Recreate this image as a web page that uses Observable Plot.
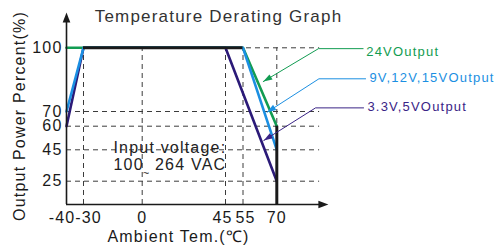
<!DOCTYPE html>
<html><head><meta charset="utf-8">
<script src="https://cdn.jsdelivr.net/npm/d3@7"></script>
<script src="https://cdn.jsdelivr.net/npm/@observablehq/plot@0.6"></script>
<style>
html,body{margin:0;padding:0;background:#fff;}
#chart svg{display:block;}
</style></head><body><div id="chart"></div>
<script>
// ---- chart values ----
const title = "Temperature Derating Graph";
const xLabel = "Ambient Tem.(℃)";
const yLabel = "Output Power Percent(%)";
const xTicks = [-40, -30, 0, 45, 55, 70];
const yTicks = [25, 45, 60, 70, 100];
const seriesNames = ["3.3V,5VOutput", "24VOutput", "9V,12V,15VOutput"];
const seriesColors = ["#2b1a78", "#129c52", "#1b8fe2"];
const temps5V = [-40, -30, 45, 70];
const power5V = [60, 100, 100, 25];
const temps24V = [-40, -30, 55, 70];
const power24V = [100, 100, 100, 60];
const temps12V = [-40, -30, 55, 70];
const power12V = [70, 100, 100, 45];
const ratedTemps = [-30, 55];
const ratedPower = 100;
const cutoffTemp = 70;
const cutoffPower = [60, 10];
const inputNote = "Input voltage:\n100  264 VAC";

// ---- layout (scales are piecewise, as drawn in the original) ----
const X_DOMAIN = [-40, -30, 0, 45, 55, 70, 130];
const X_RANGE = [66, 83, 141.7, 225, 242.5, 276.3, 411.5];
const Y_DOMAIN = [10, 25, 45, 60, 70, 100, 120];
const Y_RANGE = [204, 180.7, 149.3, 125.7, 111, 47.3, 4.9];
const xs = d3.scaleLinear().domain(X_DOMAIN).range(X_RANGE);
const ys = d3.scaleLinear().domain(Y_DOMAIN).range(Y_RANGE);
const FONT = "'Liberation Sans', Arial, Helvetica, sans-serif";

const rows = [];
[[temps5V, power5V], [temps24V, power24V], [temps12V, power12V]].forEach(([t, p], i) =>
  t.forEach((v, j) => rows.push({series: seriesNames[i], temp: v, power: p[j]})));

// annotation leaders (data coordinates)
const leaders = [
  {name: "24VOutput", color: "#129c52", label: [109.7, 97.9], path: [[108.3, 99.6], [88.5, 99.6], [64.0, 84.1]]},
  {name: "9V,12V,15VOutput", color: "#1b8fe2", label: [111.1, 85.7], path: [[109.4, 85.4], [88.7, 85.4], [65.7, 69.5]]},
  {name: "3.3V,5VOutput", color: "#3a2486", label: [110.2, 72.4], path: [[108.5, 71.7], [87.2, 71.7], [64.2, 50.9]]}
];
function angle(from, to) {
  const dx = xs(to[0]) - xs(from[0]), dy = ys(to[1]) - ys(from[1]);
  return Math.atan2(dx, -dy) * 180 / Math.PI;
}
const leaderRows = leaders.flatMap(l => l.path.map(([x, y]) => ({name: l.name, color: l.color, x, y})));
const heads = leaders.map(l => ({color: l.color, x: l.path[2][0], y: l.path[2][1], a: angle(l.path[1], l.path[2])}));
const axisHeads = [{x: -40, y: 116.6, a: 0}, {x: 92.9, y: 10, a: 90}];
const xShift = new Map([[-40, -4.5], [-30, 5], [45, -3], [55, 2.5]]);
const grid = {stroke: "#3c3c3c", strokeWidth: 1, strokeDasharray: "5,4"};
const tickText = {fontSize: 16, fontFamily: FONT, fill: "#1a1a1a"};

const chart = Plot.plot({
  width: 498, height: 251,
  marginTop: 0, marginRight: 0, marginBottom: 0, marginLeft: 0,
  style: {fontFamily: FONT, letterSpacing: "1.2px", background: "#fff", overflow: "visible"},
  x: {type: "linear", domain: X_DOMAIN, range: X_RANGE, axis: null},
  y: {type: "linear", domain: Y_DOMAIN, range: Y_RANGE, axis: null},
  color: {domain: seriesNames, range: seriesColors},
  marks: [
    Plot.ruleX(xTicks.slice(1), {y1: cutoffPower[1], y2: ratedPower, ...grid}),
    Plot.ruleY(yTicks, {x1: -40, x2: 89, ...grid}),
    Plot.line(rows, {x: "temp", y: "power", z: "series", stroke: "series", strokeWidth: 2.6}),
    Plot.ruleY([ratedPower], {x1: ratedTemps[0], x2: ratedTemps[1], stroke: "#1a1a1a", strokeWidth: 3}),
    Plot.ruleX([cutoffTemp], {y1: cutoffPower[0], y2: cutoffPower[1], stroke: "#1a1a1a", strokeWidth: 3}),
    // axes
    Plot.ruleX([-40], {y1: 10, y2: 112, stroke: "#1a1a1a", strokeWidth: 1.6}),
    Plot.ruleY([10], {x1: -40, x2: 89, stroke: "#1a1a1a", strokeWidth: 1.6}),
    Plot.vector(axisHeads, {x: "x", y: "y", rotate: "a", length: 10, r: 3.8, shape: "spike", anchor: "end", fill: "#1a1a1a", stroke: "none"}),
    // tick labels
    Plot.text(yTicks, {x: -40, y: d => d, text: d => String(d), dx: -4, textAnchor: "end", lineAnchor: "middle", ...tickText}),
    ...xTicks.map(t => Plot.text([t], {x: d => d, y: 10, text: d => String(d), dx: xShift.get(t) || 0, dy: 13.5, textAnchor: "middle", lineAnchor: "middle", ...tickText})),
    // titles
    Plot.text([title], {frameAnchor: "top-left", dx: 218, dy: 21.7, textAnchor: "middle", lineAnchor: "bottom", fontSize: 17, fontFamily: FONT, fill: "#333"}),
    Plot.text([yLabel], {frameAnchor: "left", dx: 19, dy: -10, rotate: -90, textAnchor: "middle", lineAnchor: "middle", fontSize: 16, fontFamily: FONT, fill: "#1a1a1a"}),
    Plot.text([xLabel], {frameAnchor: "bottom-left", dx: 178, dy: -9.3, textAnchor: "middle", lineAnchor: "bottom", fontSize: 16, fontFamily: FONT, fill: "#1a1a1a"}),
    // input note
    Plot.text([inputNote], {x: -14.7, y: 32.3, textAnchor: "start", lineAnchor: "bottom", lineHeight: 1.02, fontSize: 16, fontFamily: FONT, fill: "#222"}),
    Plot.text(["~"], {x: 2.3, y: 29.7, lineAnchor: "middle", fontSize: 11, fontFamily: FONT, fill: "#222"}),
    // leaders
    Plot.line(leaderRows, {x: "x", y: "y", z: "name", stroke: "color", strokeWidth: 1}),
    Plot.vector(heads, {x: "x", y: "y", rotate: "a", length: 9, r: 3, shape: "spike", anchor: "end", fill: "color", stroke: "none"}),
    Plot.text(leaders, {x: d => d.label[0], y: d => d.label[1], text: "name", fill: "color", textAnchor: "start", lineAnchor: "middle", fontSize: 13, fontFamily: FONT})
  ]
});
document.getElementById("chart").appendChild(chart);
</script>
</body></html>
